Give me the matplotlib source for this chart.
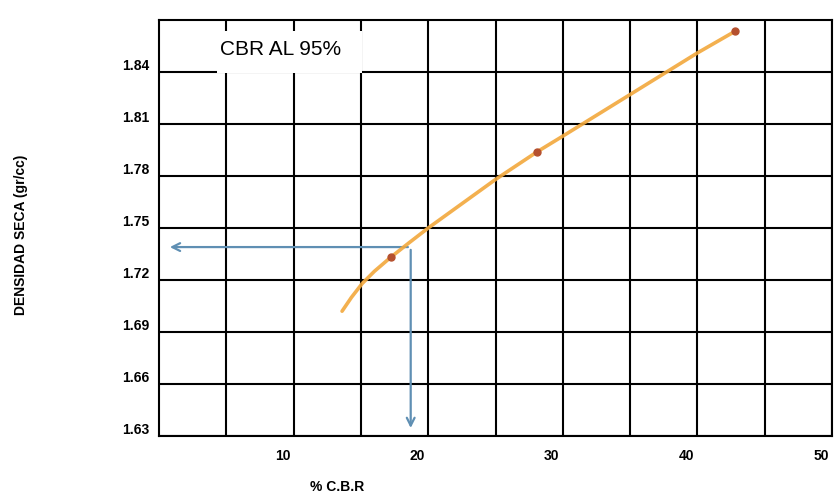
import numpy as np
import matplotlib
matplotlib.use("Agg")
from matplotlib import pyplot as plt
from matplotlib.patches import Rectangle
from matplotlib.transforms import ScaledTranslation

plt.rcParams['font.family'] = ['Liberation Sans', 'DejaVu Sans']

# values
cbr_points = [17.2, 28.1, 42.8]                 # % C.B.R of the three tests
dens_points = [1.733, 1.794, 1.8635]            # dry density (gr/cc)

# hand drawn trend curve, read along its length
curve_cbr = [13.6, 14.3, 15.1, 16.0, 17.2, 18.5, 20.0, 22.5, 25.0, 28.1, 30.0, 32.5, 35.0, 37.5, 40.0, 42.8]
curve_dens = [1.702, 1.710, 1.718, 1.725, 1.733, 1.741, 1.750, 1.764, 1.778, 1.794, 1.803, 1.815, 1.827, 1.839, 1.851, 1.8635]

cbr_95 = 18.7        # CBR read at 95%
dens_95 = 1.739      # density at 95%

x_ticks = [10, 20, 30, 40, 50]
y_ticks = [1.63, 1.66, 1.69, 1.72, 1.75, 1.78, 1.81, 1.84]

fig = plt.figure(figsize=(8.35, 4.98), dpi=100)
ax = fig.add_axes([159/835, 1 - 436/498, (832 - 159)/835, (436 - 20)/498])

ax.set_xlim(0, 50)
ax.set_ylim(1.63, 1.87)
ax.set_xticks(x_ticks)
ax.set_xticks(np.arange(5, 50, 10), minor=True)
ax.set_yticks(y_ticks)
ax.set_yticklabels(["%.2f" % v for v in y_ticks], fontsize=10, fontweight='bold')
ax.set_xticklabels([str(v) for v in x_ticks], fontsize=10, fontweight='bold')
ax.tick_params(which='both', length=0)
ax.tick_params(axis='x', pad=9)
ax.tick_params(axis='y', pad=7)
ax.grid(which='both', color='black', lw=1.5)
ax.set_axisbelow(True)
for s in ax.spines.values():
    s.set_linewidth(1.5)

# labels sit a bit off their grid lines in the scan
for lab in ax.get_yticklabels():
    lab.set_transform(lab.get_transform() + ScaledTranslation(0, 0.08, fig.dpi_scale_trans))
for lab in ax.get_xticklabels():
    lab.set_transform(lab.get_transform() + ScaledTranslation(-0.11, 0, fig.dpi_scale_trans))

# white box behind the title
ax.add_patch(Rectangle((4.3, 1.8394), 15.08 - 4.3, 1.8636 - 1.8394,
                       facecolor='white', edgecolor='none', zorder=1))
ax.text(9.0, 1.853, "CBR AL 95%", fontsize=15, ha='center', va='center', zorder=3)

ax.plot(curve_cbr, curve_dens, color='#f2a83c', lw=2.6, alpha=0.9, zorder=4,
        solid_capstyle='round', solid_joinstyle='round')
ax.plot(cbr_points, dens_points, 'o', color='#b5502e', ms=5, zorder=5)

arrow = dict(arrowstyle='->', color='#5f8fb3', lw=1.6, mutation_scale=14)
ax.annotate("", xy=(0.6, dens_95), xytext=(cbr_95, dens_95), arrowprops=arrow, zorder=3)
ax.annotate("", xy=(cbr_95, 1.633), xytext=(cbr_95, dens_95), arrowprops=arrow, zorder=3)

fig.text(21/835, 1 - 235/498, "DENSIDAD SECA (gr/cc)", rotation=90, fontsize=10,
         fontweight='bold', ha='center', va='center')
fig.text(337/835, 1 - 487/498, "% C.B.R", fontsize=10, fontweight='bold',
         ha='center', va='center')

fig.savefig("out.png", dpi=100)
